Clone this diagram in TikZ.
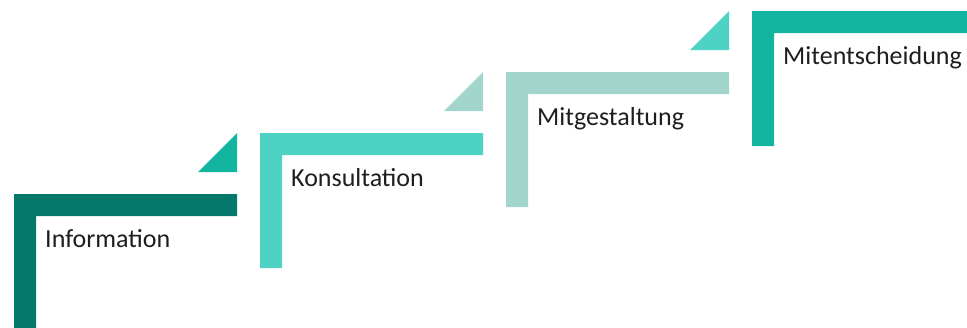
\documentclass[tikz,border=0pt]{standalone}
\usepackage{fontspec}
\setmainfont{Carlito}
\definecolor{stepA}{HTML}{03786B}
\definecolor{stepB}{HTML}{4DD2C4}
\definecolor{stepC}{HTML}{A2D6CD}
\definecolor{stepD}{HTML}{13B4A0}
\definecolor{labeltext}{HTML}{1E1E1E}
\tikzset{
  steplabel/.style={anchor=base west, inner sep=0pt, text=labeltext,
    font=\fontsize{26}{30}\selectfont},
}
\begin{document}
\begin{tikzpicture}[x=1pt, y=-1pt]
  \useasboundingbox (0,0) rectangle (967,327);
  \clip (0,0) rectangle (967,327);
  % each step: corner (x,y), bar colour, wedge colour, label
  \foreach \x/\y/\bar/\wedge/\name/\txt in {
      14/194/stepA/stepD/s1/Information,
      260/133/stepB/stepC/s2/Konsultation,
      506/72/stepC/stepB/s3/Mitgestaltung,
      752/11/stepD/none/s4/Mitentscheidung}{
    % angled bracket
    \fill[\bar] (\x,\y) -- ++(223,0) -- ++(0,22) -- ++(-201,0)
      -- ++(0,113) -- ++(-22,0) -- cycle;
    % small wedge leading up to the next step
    \ifx\wedge\empty\else
      \def\nowedge{none}
      \ifx\wedge\nowedge\else
        \fill[\wedge] (\x+223,\y-22) -- ++(-39,0) -- ++(39,-39) -- cycle;
      \fi
    \fi
    \node[steplabel] (\name) at (\x+31,\y+53) {\txt};
  }
\end{tikzpicture}
\end{document}
